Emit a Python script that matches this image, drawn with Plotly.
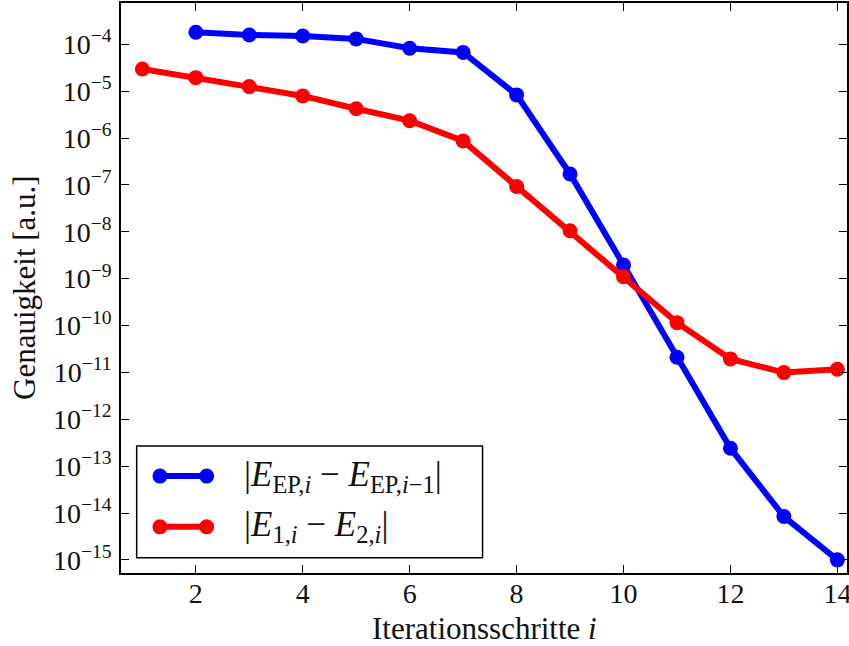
import plotly.graph_objects as go

iterations_blue = [2, 3, 4, 5, 6, 7, 8, 9, 10, 11, 12, 13, 14]
delta_ep = [1.8e-4, 1.58e-4, 1.5e-4, 1.3e-4, 8.2e-5, 6.7e-5, 8.3e-6, 1.71e-7,
            1.96e-9, 2.1e-11, 2.41e-13, 8.4e-15, 1.0e-15]
iterations_red = [1, 2, 3, 4, 5, 6, 7, 8, 9, 10, 11, 12, 13, 14]
delta_e12 = [2.97e-5, 1.94e-5, 1.25e-5, 7.9e-6, 4.2e-6, 2.34e-6, 8.65e-7, 9.2e-8,
             1.05e-8, 1.1e-9, 1.15e-10, 1.94e-11, 9.9e-12, 1.17e-11]
x_ticks = [2, 4, 6, 8, 10, 12, 14]
y_exponents = list(range(-15, -3))

label_blue = "|<i>E</i><sub>EP,<i>i</i></sub> − <i>E</i><sub>EP,<i>i</i>−1</sub>|"
label_red = "|<i>E</i><sub>1,<i>i</i></sub> − <i>E</i><sub>2,<i>i</i></sub>|"
x_title = "Iterationsschritte <i>i</i>"
y_title = "Genauigkeit [a.u.]"

FONT = "Liberation Serif"
TXT = "#111"

fig = go.Figure()
fig.add_trace(go.Scatter(x=iterations_blue, y=delta_ep, mode="lines+markers",
                         line=dict(color="#0000ff", width=6),
                         marker=dict(color="#0000ff", size=15), name=label_blue,
                         showlegend=False))
fig.add_trace(go.Scatter(x=iterations_red, y=delta_e12, mode="lines+markers",
                         line=dict(color="#ff0000", width=6),
                         marker=dict(color="#ff0000", size=15), name=label_red,
                         showlegend=False))

axis_common = dict(showgrid=False, zeroline=False, showline=True, linecolor="black",
                   linewidth=1.5, mirror="ticks", ticks="inside", ticklen=8,
                   tickwidth=1, tickcolor="black", automargin=False,
                   ticklabeloverflow="allow",
                   tickfont=dict(family=FONT, size=28, color=TXT))

fig.update_xaxes(range=[0.6, 14.18], tickvals=x_ticks, ticklabelstandoff=-5, **axis_common)
fig.update_yaxes(type="log", range=[-15.28, -3.12],
                 tickvals=[10.0 ** e for e in y_exponents],
                 ticktext=["10<sup>−%d</sup>" % (-e) for e in y_exponents],
                 ticklabelstandoff=2,
                 **axis_common)

shapes = []
annotations = []
# axis titles
annotations.append(dict(x=0.5, y=0, xref="paper", yref="paper", text=x_title,
                        showarrow=False, xanchor="center", yanchor="middle", yshift=-55,
                        font=dict(family=FONT, size=31, color=TXT)))
annotations.append(dict(x=0, y=0.5, xref="paper", yref="paper", text=y_title,
                        showarrow=False, xanchor="center", yanchor="middle", xshift=-97,
                        textangle=-90, font=dict(family=FONT, size=31, color=TXT)))

# custom legend (paper coordinates)
lx0, lx1, ly0, ly1 = 0.0216, 0.498, 0.0268, 0.2228
shapes.append(dict(type="rect", xref="paper", yref="paper", x0=lx0, x1=lx1, y0=ly0, y1=ly1,
                   line=dict(color="black", width=1.5), fillcolor="white", layer="above"))
entries = [(0.170, "#0000ff", label_blue), (0.081, "#ff0000", label_red)]
for yy, col, lab in entries:
    xa, xb = 0.0537, 0.118
    shapes.append(dict(type="line", xref="paper", yref="paper", x0=xa, x1=xb, y0=yy, y1=yy,
                       line=dict(color=col, width=6), layer="above"))
    for xc in (xa, xb):
        shapes.append(dict(type="circle", xref="paper", yref="paper",
                           xsizemode="pixel", ysizemode="pixel", xanchor=xc, yanchor=yy,
                           x0=-7.5, x1=7.5, y0=-7.5, y1=7.5,
                           line=dict(color=col, width=0), fillcolor=col, layer="above"))
    annotations.append(dict(x=0.166, y=yy, xref="paper", yref="paper", text=lab,
                            showarrow=False, xanchor="left", yanchor="middle",
                            font=dict(family=FONT, size=35, color=TXT)))

fig.update_layout(width=849, height=646, margin=dict(l=121, r=2, t=3, b=73),
                  plot_bgcolor="white", paper_bgcolor="white",
                  shapes=shapes, annotations=annotations)

fig.write_html("out.html", config={"displayModeBar": False},
               post_script="document.body.style.margin='0px';document.body.style.overflow='hidden';")
